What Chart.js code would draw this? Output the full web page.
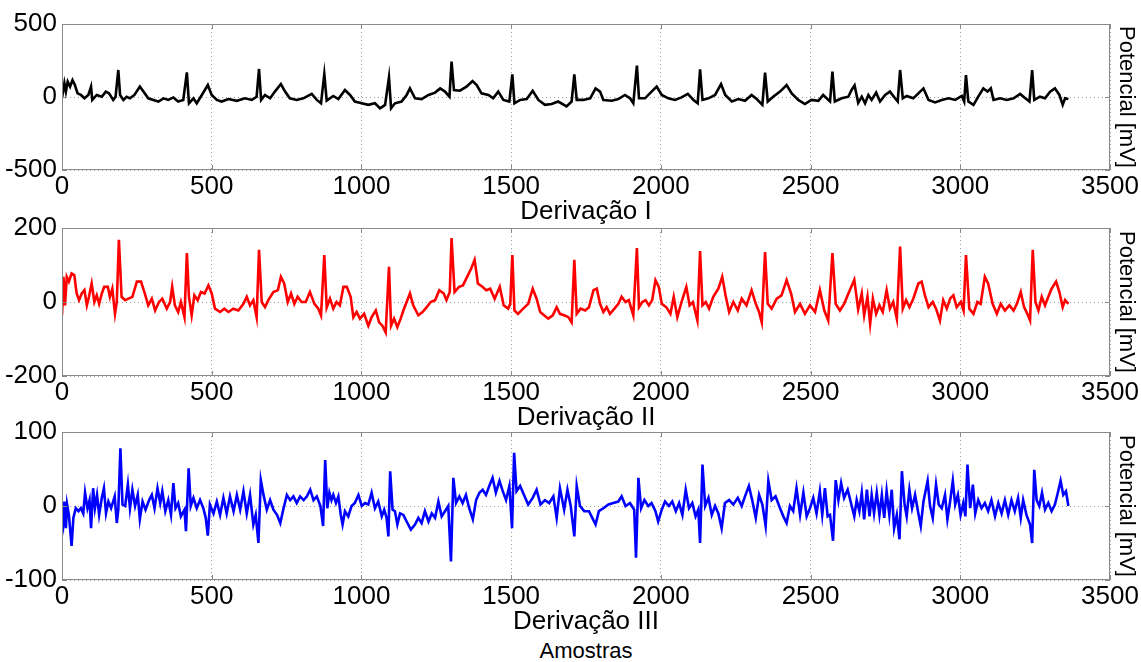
<!DOCTYPE html>
<html>
<head>
<meta charset="utf-8">
<script src="https://cdn.jsdelivr.net/npm/chart.js@4/dist/chart.umd.min.js"></script>
<style>
  html, body { margin: 0; padding: 0; background: #ffffff; }
  body { width: 1141px; height: 662px; position: relative; overflow: hidden; }
  canvas { position: absolute; left: 0; }
  #amostras { position: absolute; left: 386px; width: 400px; top: 638px; text-align: center;
              font: 22px "Liberation Sans", Arial, sans-serif; line-height: 26px; color: #000; }
</style>
</head>
<body>
<canvas id="c1" width="1141" height="227" style="top:0px"></canvas>
<canvas id="c2" width="1141" height="233" style="top:200px"></canvas>
<canvas id="c3" width="1141" height="233" style="top:404px"></canvas>
<div id="amostras">Amostras</div>
<script>
// ---------- data ----------
const xTicks = [0, 500, 1000, 1500, 2000, 2500, 3000, 3500];
const titles = ['Derivação I', 'Derivação II', 'Derivação III'];
const yLabel = 'Potencial [mV]';
const yTicksI = [-500, 0, 500];
const yTicksII = [-200, 0, 200];
const yTicksIII = [-100, 0, 100];

const leadI_x = [0,8,13,19,27,35,43,52,63,75,88,97,101,116,133,146,157,171,179,188,194,205,216,227,242,260,272,288,305,322,339,355,372,388,405,417,424,439,450,467,487,500,517,533,556,584,611,634,650,658,665,678,695,711,731,745,761,784,806,834,851,865,876,884,906,923,945,962,978,1001,1023,1045,1062,1079,1092,1099,1112,1134,1151,1162,1179,1201,1224,1246,1263,1279,1294,1301,1309,1329,1351,1371,1385,1401,1424,1440,1457,1474,1494,1504,1511,1530,1552,1572,1591,1613,1635,1657,1685,1702,1711,1719,1741,1764,1782,1797,1808,1836,1858,1880,1897,1908,1920,1927,1947,1969,1986,2003,2025,2047,2069,2090,2109,2123,2131,2139,2159,2181,2201,2215,2237,2259,2281,2303,2320,2339,2348,2357,2375,2398,2420,2437,2459,2481,2503,2526,2542,2565,2573,2581,2604,2626,2637,2647,2659,2671,2682,2693,2704,2719,2732,2749,2765,2782,2791,2799,2808,2821,2843,2866,2877,2894,2916,2938,2961,2983,3005,3013,3019,3027,3044,3060,3077,3091,3102,3111,3133,3155,3178,3200,3217,3231,3240,3247,3266,3283,3300,3316,3331,3342,3350,3361];
const leadI_y = [-8,94,37,105,71,116,82,25,14,-9,14,71,-20,14,2,37,25,-20,2,185,14,-20,2,-9,14,71,37,-9,-20,-31,-9,-20,-3,-31,-20,169,-43,-9,-43,14,82,14,-20,-31,-14,-26,-9,-20,2,192,-20,14,-9,37,89,37,-9,-20,-9,21,-20,-43,157,-25,7,-14,48,14,-31,-43,-54,-43,-77,-54,135,-77,-43,-31,14,59,-9,-14,14,30,59,37,2,242,48,43,71,110,82,25,14,-9,37,-20,-31,155,-43,-20,-14,43,-20,-54,-48,-31,-65,-31,155,-20,-20,-9,59,37,-20,-26,-14,14,-9,-43,215,-9,-9,37,71,14,-9,-20,-3,21,-20,-43,190,-20,-9,14,89,14,-31,-14,-26,14,-14,-54,167,-31,2,37,82,25,-20,-48,-20,-26,14,-31,174,-31,-9,2,48,80,-40,2,-43,14,-20,30,-31,14,37,-9,-31,185,-9,7,-9,37,59,-20,-37,-20,-9,-20,7,-31,150,-31,-54,2,59,37,59,-20,-9,-20,-9,21,-9,-31,185,-20,2,-9,37,59,14,-54,-9,-14];

const leadII_x = [0,5,10,16,23,32,41,49,57,66,75,83,90,99,108,116,124,133,141,153,160,168,177,183,190,199,211,222,235,250,264,275,288,300,311,324,335,350,361,368,377,388,397,409,417,424,433,442,453,464,476,489,500,511,528,542,556,572,589,606,617,628,639,650,658,667,678,689,706,721,731,742,754,765,776,787,800,814,828,843,856,865,876,884,895,906,917,928,940,951,964,973,984,995,1009,1023,1034,1048,1059,1070,1081,1092,1099,1109,1120,1131,1140,1151,1162,1173,1190,1204,1218,1231,1246,1260,1275,1284,1295,1301,1311,1326,1339,1353,1367,1378,1389,1404,1417,1430,1445,1462,1475,1490,1497,1504,1511,1523,1540,1557,1572,1585,1597,1610,1624,1639,1652,1663,1677,1691,1702,1711,1719,1732,1747,1760,1775,1786,1797,1808,1819,1830,1845,1858,1869,1882,1893,1908,1920,1927,1938,1949,1960,1971,1982,1993,2003,2018,2032,2043,2055,2069,2085,2096,2107,2122,2131,2139,2150,2161,2175,2192,2205,2216,2228,2242,2257,2270,2286,2303,2317,2328,2337,2348,2357,2370,2387,2403,2420,2435,2448,2465,2481,2498,2515,2531,2546,2559,2573,2584,2598,2612,2631,2646,2659,2671,2679,2690,2699,2708,2719,2730,2741,2754,2765,2776,2788,2799,2808,2819,2830,2843,2860,2871,2882,2894,2908,2919,2932,2943,2955,2966,2977,2988,3002,3011,3019,3030,3044,3057,3068,3082,3093,3108,3122,3135,3149,3164,3178,3189,3202,3213,3224,3233,3242,3251,3261,3272,3283,3294,3305,3320,3331,3342,3350,3361];
const leadII_y = [-36,68,-9,68,55,77,73,23,5,23,32,-9,14,50,0,18,-5,23,41,41,14,36,-32,0,168,14,5,9,14,55,55,27,-9,9,-23,0,9,-18,0,41,-9,-27,0,-41,132,14,-36,18,5,27,23,45,23,-18,-27,-18,-27,-18,-23,-5,14,-9,5,-41,141,0,-14,5,27,32,68,50,0,23,-5,14,0,0,27,-5,-18,-36,127,-15,9,-18,0,-9,41,41,14,-41,-27,-45,-32,-64,-41,-23,-55,-64,-82,95,-64,-45,-68,-45,-23,0,23,-9,-36,-27,-14,0,5,32,23,5,27,173,27,41,45,68,91,114,50,41,32,36,9,41,-9,-18,-5,127,-23,-32,-18,-5,36,9,-27,-36,-45,-36,-14,-32,-36,-41,-55,114,-32,-18,-23,-14,32,36,-5,-27,-14,-32,-18,-5,14,0,5,-36,146,-14,0,5,-9,5,59,41,-5,-14,-32,14,-41,0,41,-9,0,-50,138,-9,0,-18,14,36,68,18,-27,0,-23,9,-9,32,-5,-27,-55,135,-5,-18,9,18,59,23,-27,-5,-32,-9,-27,32,-23,-50,132,-5,-23,-5,32,60,-20,23,-36,14,-59,9,-32,-9,-27,32,-18,0,-45,150,-18,5,-14,9,50,55,18,-14,0,-18,-50,5,-18,9,18,-14,0,-23,127,-18,-32,0,-5,68,50,-5,-32,-5,-23,-9,-23,-5,27,-14,-32,-50,141,0,-23,14,-9,14,36,55,27,-14,5,-5];

const leadIII_x = [0,4,8,13,17,23,32,38,46,55,63,71,77,85,92,97,104,110,117,124,133,140,147,155,164,176,183,188,195,202,211,220,227,235,244,253,260,269,279,291,300,309,319,328,335,345,355,364,372,379,388,397,409,414,423,430,439,450,461,472,480,487,494,506,517,528,539,550,561,573,584,595,606,617,628,639,647,656,664,673,684,695,706,718,729,740,751,762,773,784,795,807,818,829,840,851,863,872,879,886,893,900,906,915,923,931,937,945,956,967,978,990,1001,1012,1023,1034,1045,1056,1068,1076,1084,1090,1096,1104,1112,1120,1129,1140,1151,1165,1179,1190,1201,1212,1224,1235,1246,1257,1268,1279,1290,1299,1307,1316,1327,1338,1349,1360,1372,1383,1394,1405,1416,1427,1438,1449,1461,1472,1483,1494,1503,1510,1518,1530,1543,1557,1572,1585,1598,1613,1627,1641,1652,1663,1677,1688,1699,1711,1719,1730,1744,1760,1771,1782,1793,1808,1825,1841,1858,1869,1882,1897,1911,1917,1925,1934,1945,1958,1969,1982,1991,2003,2014,2027,2038,2050,2061,2072,2083,2094,2105,2116,2125,2131,2139,2148,2159,2170,2181,2192,2203,2214,2228,2242,2257,2270,2281,2294,2305,2317,2328,2339,2350,2359,2370,2383,2398,2409,2420,2431,2442,2453,2465,2476,2487,2498,2509,2520,2531,2539,2548,2557,2565,2575,2584,2593,2602,2612,2624,2635,2646,2654,2663,2671,2679,2688,2697,2704,2712,2721,2730,2738,2746,2754,2763,2771,2779,2788,2797,2805,2814,2821,2830,2839,2849,2860,2868,2877,2891,2899,2908,2919,2928,2938,2949,2957,2966,2975,2983,2992,3001,3010,3017,3024,3033,3042,3050,3060,3071,3082,3093,3104,3116,3127,3138,3149,3160,3171,3182,3193,3202,3210,3221,3233,3240,3247,3255,3264,3273,3283,3294,3305,3316,3327,3335,3344,3353,3361];
const leadIII_y = [-16,-25,6,-30,2,-12,-54,-16,-3,-7,-3,-10,18,-3,8,-30,24,-3,15,-12,11,24,-10,6,-3,13,-23,-5,78,2,0,29,-3,22,0,15,-18,6,-5,8,15,-3,24,4,20,-7,8,-12,31,-3,4,-14,-5,-34,51,0,11,-3,8,-3,-16,-40,2,-10,6,-12,11,-10,13,-7,15,-5,20,-10,15,-25,-12,-50,35,15,-5,8,-5,-12,-23,-3,15,8,13,4,13,8,13,22,8,13,0,-27,62,-3,18,8,15,4,13,-12,-25,-7,-14,0,4,15,0,4,2,18,-3,6,-14,-5,-16,-41,47,-5,-7,-25,-10,-12,-21,-32,-25,-16,-23,-7,-21,-10,-16,6,-14,-7,0,-75,38,4,13,4,15,-3,-18,8,18,22,15,27,38,18,34,20,8,27,-30,72,20,27,15,2,11,22,2,8,4,13,-16,24,-5,22,0,-41,27,0,-7,-7,-16,-25,-7,-3,2,4,6,13,0,4,-5,-70,38,-3,8,0,4,-7,-21,-5,6,0,6,-7,4,-12,22,-3,4,-14,-5,-50,56,0,11,-12,0,-10,-30,4,8,2,11,0,13,27,8,-16,15,2,-27,34,8,13,-3,-14,-23,0,-7,24,-12,18,-14,-3,11,-10,20,-12,24,-14,-12,-47,35,8,31,11,22,4,-14,8,-7,18,-18,22,-14,15,-10,18,-12,15,-16,20,-12,22,-30,-12,-45,47,2,-14,22,-3,15,-10,-27,6,34,0,-16,29,2,-3,15,-18,6,34,2,15,-12,4,-14,56,-3,29,-10,8,-3,4,-7,8,-14,4,-10,8,-12,8,-7,11,-16,8,-12,-25,-50,49,8,0,18,-5,4,-7,2,20,34,15,20,0];

// ---------- rendering ----------
const FONT = '"Liberation Sans", Arial, Helvetica, sans-serif';
const BOX = '#8a8a8a';
const plain = v => String(v);

const boxPlugin = {
  id: 'matlabBox',
  afterDatasetsDraw(chart) {
    const {ctx, chartArea: a, scales} = chart;
    ctx.save();
    ctx.strokeStyle = BOX;
    ctx.lineWidth = 1;
    ctx.strokeRect(a.left + 0.5, a.top + 0.5, a.right - a.left - 1, a.bottom - a.top - 1);
    const L = 5;
    ctx.beginPath();
    scales.x.ticks.forEach(t => {
      const px = Math.round(scales.x.getPixelForValue(t.value)) + 0.5;
      ctx.moveTo(px, a.bottom); ctx.lineTo(px, a.bottom - L);
      ctx.moveTo(px, a.top); ctx.lineTo(px, a.top + L);
    });
    scales.y.ticks.forEach(t => {
      const py = Math.round(scales.y.getPixelForValue(t.value)) + 0.5;
      ctx.moveTo(a.left, py); ctx.lineTo(a.left + L, py);
      ctx.moveTo(a.right, py); ctx.lineTo(a.right - L, py);
    });
    ctx.stroke();
    ctx.restore();
  }
};

function makeChart(id, xs, ys, color, yTicks, title, padTop) {
  const pts = xs.map((x, i) => ({x: x, y: ys[i]}));
  const yMin = yTicks[0], yMax = yTicks[yTicks.length - 1];
  return new Chart(document.getElementById(id), {
    type: 'line',
    data: { datasets: [{ data: pts, borderColor: color, borderWidth: 2.6, pointRadius: 0,
                         tension: 0, fill: false }] },
    plugins: [boxPlugin],
    options: {
      responsive: false, animation: false, devicePixelRatio: 1,
      layout: { padding: { top: padTop, right: 0, bottom: 0, left: 0 } },
      plugins: { legend: { display: false }, tooltip: { enabled: false } },
      scales: {
        x: {
          type: 'linear', min: xTicks[0], max: xTicks[xTicks.length - 1],
          afterBuildTicks: s => { s.ticks = xTicks.map(v => ({value: v})); },
          ticks: { font: { family: FONT, size: 26 }, color: '#000', padding: 1, maxRotation: 0,
                   autoSkip: false, callback: plain },
          grid: { color: 'rgba(0,0,0,0.38)', drawTicks: false, lineWidth: 1 },
          border: { display: false, dash: [1, 3] },
          title: { display: true, text: title, font: { family: FONT, size: 26 }, color: '#000', padding: 0 },
          afterFit: s => { s.height = 57; }
        },
        y: {
          type: 'linear', position: 'left', min: yMin, max: yMax,
          afterBuildTicks: s => { s.ticks = yTicks.map(v => ({value: v})); },
          ticks: { font: { family: FONT, size: 26 }, color: '#000', padding: 5, callback: plain },
          grid: { color: 'rgba(0,0,0,0.38)', drawTicks: false, lineWidth: 1 },
          border: { display: false, dash: [1, 3] },
          afterFit: s => { s.width = 62; }
        },
        yr: {
          type: 'linear', position: 'right', min: yMin, max: yMax,
          ticks: { display: false },
          grid: { drawOnChartArea: false, drawTicks: false },
          border: { display: false },
          title: { display: true, text: yLabel, font: { family: FONT, size: 22 }, color: '#000',
                   padding: { top: 2, bottom: 0 } },
          afterFit: s => { s.width = 31; }
        }
      }
    }
  });
}

makeChart('c1', leadI_x, leadI_y, '#000000', yTicksI, titles[0], 24);
makeChart('c2', leadII_x, leadII_y, '#ff0000', yTicksII, titles[1], 28);
makeChart('c3', leadIII_x, leadIII_y, '#0000ff', yTicksIII, titles[2], 28);
</script>
</body>
</html>
